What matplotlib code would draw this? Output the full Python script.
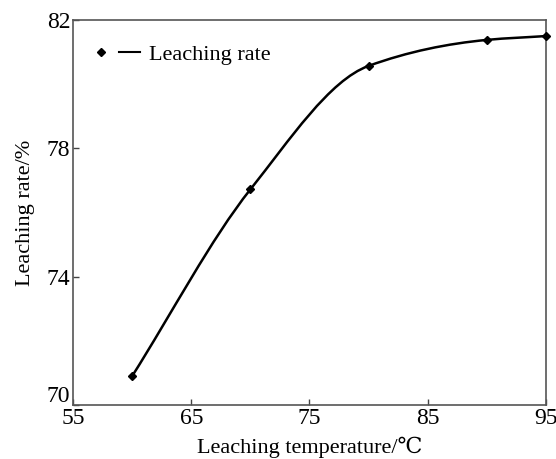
import matplotlib.pyplot as plt
import numpy as np
from matplotlib.path import Path
from matplotlib.patches import PathPatch
from matplotlib.lines import Line2D
from matplotlib.legend_handler import HandlerTuple
import matplotlib.transforms as mtransforms

plt.rcParams['font.family'] = ['Liberation Serif', 'DejaVu Serif']

# values
temperature = [60, 70, 80, 90, 95]
rate = [70.9, 76.72, 80.57, 81.38, 81.5]
xticks = [55, 65, 75, 85, 95]
yticks = [70, 74, 78, 82]

fig = plt.figure(figsize=(5.56, 4.59), dpi=100)
ax = fig.add_axes([0.1313, 0.1176, 0.8507, 0.8388])

# smooth curve through the points: cubic Bezier segments with monotone tangents
x = np.array(temperature, float)
y = np.array(rate, float)
h = np.diff(x)
d = np.diff(y) / h
m = np.zeros_like(y)
m[0] = d[0]
m[-1] = d[-1]
for i in range(1, len(x) - 1):
    if d[i - 1] * d[i] > 0:
        w1 = 2 * h[i] + h[i - 1]
        w2 = h[i] + 2 * h[i - 1]
        m[i] = (w1 + w2) / (w1 / d[i - 1] + w2 / d[i])
verts = [(x[0], y[0])]
codes = [Path.MOVETO]
for i in range(len(x) - 1):
    verts += [(x[i] + h[i] / 3, y[i] + m[i] * h[i] / 3),
              (x[i + 1] - h[i] / 3, y[i + 1] - m[i + 1] * h[i] / 3),
              (x[i + 1], y[i + 1])]
    codes += [Path.CURVE4] * 3
ax.add_patch(PathPatch(Path(verts, codes), fill=False, edgecolor='black', lw=1.8, zorder=3))
ax.plot(temperature, rate, ls='none', marker='D', ms=4.5, color='black', zorder=4, clip_on=False)

ax.set_xlim(55, 95)
ax.set_ylim(70, 82)
ax.set_xticks(xticks)
ax.set_yticks(yticks)
ax.tick_params(direction='in', length=4.5, width=1, labelsize=17, pad=2, color='#444444')
for s in ax.spines.values():
    s.set_linewidth(1.2)
    s.set_color('#555555')

# lowest y label sits a bit above the corner, as in the original
lab70 = ax.get_yticklabels()[0]
lab70.set_transform(lab70.get_transform() + mtransforms.ScaledTranslation(0, 8 / 72, fig.dpi_scale_trans))

ax.set_xlabel('Leaching temperature/℃', fontsize=16, labelpad=6)
ax.set_ylabel('Leaching rate/%', fontsize=16, labelpad=8)

h_marker = Line2D([], [], ls='none', marker='D', ms=4.5, color='black')
h_line = Line2D([], [], color='black', lw=1.5)
ax.legend([(h_marker, h_line)], ['Leaching rate'],
          handler_map={tuple: HandlerTuple(ndivide=None, pad=0.3)},
          loc='upper left', bbox_to_anchor=(0.0, 0.984), frameon=False,
          fontsize=16, handlelength=2.2, handletextpad=0.4, borderaxespad=0.4)

fig.savefig('out.png', dpi=100)
